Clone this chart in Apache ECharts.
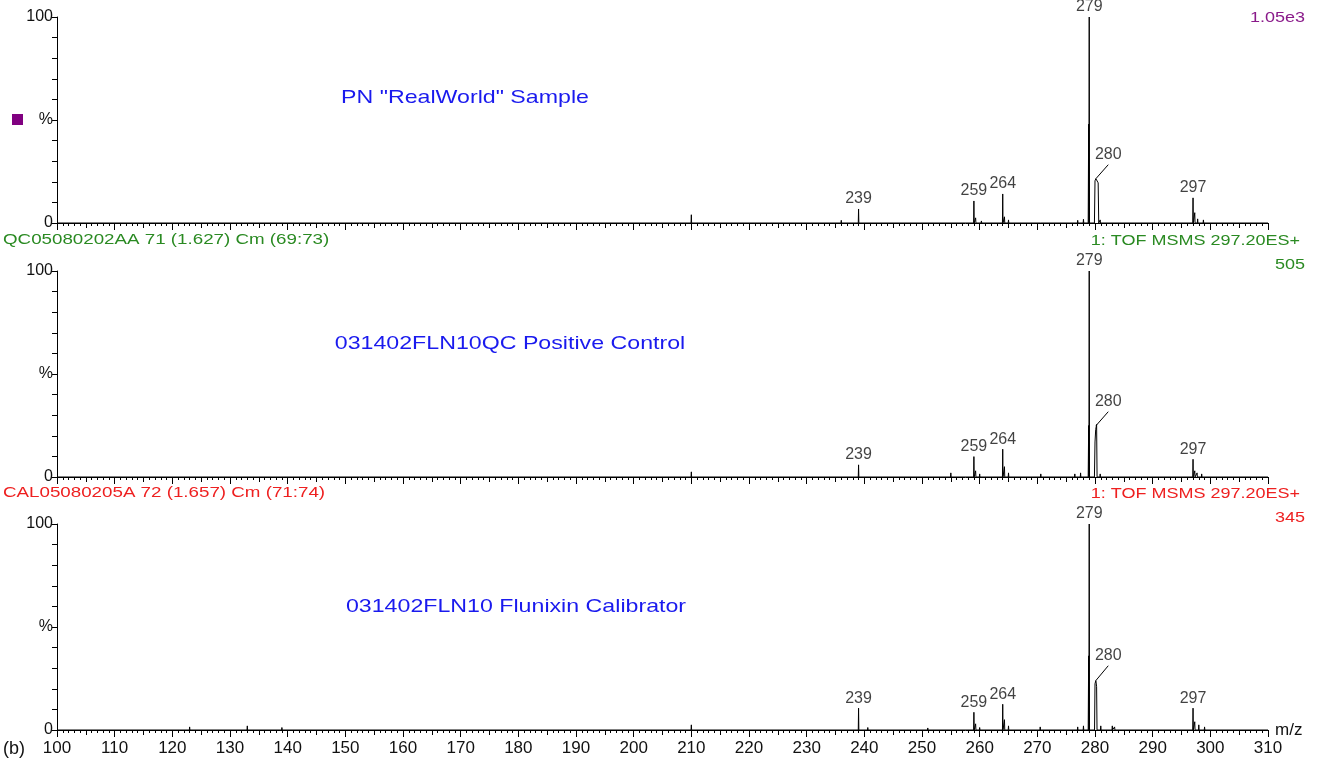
<!DOCTYPE html>
<html><head><meta charset="utf-8">
<script src="https://cdn.jsdelivr.net/npm/echarts@6/dist/echarts.min.js"></script>
<style>html,body{margin:0;padding:0;background:#fff}#c{width:1321px;height:765px}</style>
</head><body><div id="c"></div>
<script>
// ---------------- data ----------------
const xMin = 100, xMax = 310;
const annotations = ['PN "RealWorld" Sample', '031402FLN10QC Positive Control', '031402FLN10 Flunixin Calibrator'];
const headersLeft = ['', 'QC05080202AA 71 (1.627) Cm (69:73)', 'CAL05080205A 72 (1.657) Cm (71:74)'];
const headersRight = ['', '1: TOF MSMS 297.20ES+', '1: TOF MSMS 297.20ES+'];
const intensities = ['1.05e3', '505', '345'];

// labelled peaks [m/z, %]
const peaks1 = [[239, 6.8], [259, 10.7], [264, 14.1], [279, 100], [297, 12.2]];
const peaks2 = [[239, 5.9], [259, 9.9], [264, 13.5], [279, 100], [297, 8.6]];
const peaks3 = [[239, 10.6], [259, 8.6], [264, 12.5], [279, 100], [297, 10.6]];

// shoulder of 279
const shoulder1 = [[278.82, 0], [278.9, 48], [278.94, 0]];
const shoulder2 = [[278.82, 0], [278.9, 25], [278.94, 0]];
const shoulder3 = [[278.82, 0], [278.9, 36], [278.94, 0]];

// isotope peak 280 (profile)
const iso1 = [[279.9, 0], [280.0, 20.5], [280.15, 21.5], [280.55, 19.5], [280.65, 0]];
const iso2 = [[279.9, 0], [280.0, 17], [280.12, 23], [280.28, 25.5], [280.36, 0]];
const iso3 = [[279.92, 0], [280.0, 22.5], [280.15, 24], [280.28, 21], [280.35, 0]];

// label for 280: leader start, leader end
const lead1 = [[280.15, 21.5], [282.3, 28.3]];
const lead2 = [[280.2, 25], [282.3, 31.7]];
const lead3 = [[280.15, 24], [282.3, 31.2]];

// small noise peaks [m/z, %]
const noise1 = [[210, 4], [236, 1.3], [259.3, 2.5], [260.3, 1], [264.3, 3], [265, 1.5], [270.6, 0.8], [277, 1.3], [278, 1.8], [280.9, 1.5], [297.3, 5], [297.8, 2], [298.8, 1.5]];
const noise2 = [[210, 2.5], [255, 2], [259.3, 3], [260, 1.5], [264.3, 5], [265, 2], [270.6, 1.5], [276.5, 1.5], [277.5, 2], [280.9, 1.5], [297.3, 3], [297.7, 2], [298.5, 1.5]];
const noise3 = [[123, 1.5], [133, 2], [139, 1.2], [210, 2.5], [240.6, 1.2], [251, 1], [259.3, 3], [260, 1.2], [264.3, 5], [265, 2], [270.5, 1.5], [277, 1.5], [278, 2], [281, 2], [283, 2], [283.4, 1.5], [297.3, 4], [298, 2.5], [299, 1.5]];

const panels = [
  {peaks: peaks1, shoulder: shoulder1, iso: iso1, lead: lead1, noise: noise1},
  {peaks: peaks2, shoulder: shoulder2, iso: iso2, lead: lead2, noise: noise2},
  {peaks: peaks3, shoulder: shoulder3, iso: iso3, lead: lead3, noise: noise3}
];

// ---------------- layout ----------------
const FONT = '"Liberation Sans", Arial, Helvetica, sans-serif';
const tops = [17, 271, 524];
const gLeft = 57, gWidth = 1211, gHeight = 206;
const headerColors = ['#8a1a8a', '#2a8a22', '#ee2020'];
const annColor = '#1a1aee';

function spikes(list) {
  return list.map(([m, h]) => [[m - 0.05, 0], [m, h], [m + 0.05, 0]]);
}
function trace(p) {
  const segs = [...spikes(p.peaks), ...spikes(p.noise), p.shoulder, p.iso];
  segs.sort((a, b) => a[0][0] - b[0][0]);
  return [[xMin, 0], ...segs.flat(), [xMax, 0]];
}

const grid = [], xAxis = [], yAxis = [], series = [];
panels.forEach((p, i) => {
  grid.push({left: gLeft, width: gWidth, top: tops[i], height: gHeight});
  xAxis.push({
    type: 'value', gridIndex: i, min: xMin, max: xMax, interval: 10,
    axisLine: {show: true, lineStyle: {color: '#000', width: 1}},
    axisTick: {show: true, inside: false, length: 7, lineStyle: {color: '#000', width: 1}},
    minorTick: {show: true, splitNumber: 10, length: 3, lineStyle: {color: '#000', width: 1}},
    splitLine: {show: false}, minorSplitLine: {show: false},
    axisLabel: {show: i === 2, fontSize: 17, color: '#111', fontFamily: FONT, margin: 10},
    name: i === 2 ? 'm/z' : '', nameLocation: 'end', nameGap: 7,
    nameTextStyle: {fontSize: 17, color: '#111', fontFamily: FONT, padding: [8, 0, 0, 0]}
  });
  yAxis.push({
    type: 'value', gridIndex: i, min: 0, max: 100, interval: 10,
    axisLine: {show: true, lineStyle: {color: '#000', width: 1}},
    axisTick: {show: true, inside: false, length: 5, lineStyle: {color: '#000', width: 1}},
    splitLine: {show: false},
    axisLabel: {fontSize: 16, color: '#111', fontFamily: FONT, margin: 4,
      formatter: v => v === 0 ? '0' : v === 100 ? '100' : v === 50 ? '%' : ''}
  });
  series.push({
    type: 'line', xAxisIndex: i, yAxisIndex: i, data: trace(p), showSymbol: false,
    symbol: 'none', lineStyle: {color: '#000', width: 1}, silent: true, z: 3
  });
  series.push({
    type: 'line', xAxisIndex: i, yAxisIndex: i, data: p.lead, showSymbol: false,
    symbol: 'none', lineStyle: {color: '#000', width: 1}, silent: true, z: 3
  });
  const labels = p.peaks.map(([m, h]) => ({name: String(m), value: [m, h]}));
  labels.push({name: '280', value: p.lead[1]});
  series.push({
    type: 'scatter', xAxisIndex: i, yAxisIndex: i, symbolSize: 0, data: labels, silent: true,
    label: {show: true, position: 'top', distance: 2, formatter: '{b}', fontSize: 16,
      color: '#111', fontFamily: FONT}
  });
});
// mid ticks every 5
panels.forEach((p, i) => {
  grid.push({left: gLeft, width: gWidth, top: tops[i], height: gHeight});
  xAxis.push({
    type: 'value', gridIndex: 3 + i, min: xMin, max: xMax, interval: 5,
    axisLine: {show: false}, axisLabel: {show: false}, splitLine: {show: false},
    axisTick: {show: true, inside: false, length: 5, lineStyle: {color: '#000', width: 1}}
  });
  yAxis.push({type: 'value', gridIndex: 3 + i, min: 0, max: 100, show: false});
});

function txt(text, x, y, size, color, align, sx) {
  return {type: 'text', x: x, y: y, scaleX: sx || 1, silent: true, z: 10,
    style: {text: text, fill: color, font: size + 'px ' + FONT,
      align: align, verticalAlign: 'middle', textAlign: align, textVerticalAlign: 'middle'}};
}
const graphic = [];
const annX = [465, 510, 516], annY = [98, 344, 607];
annotations.forEach((a, i) => graphic.push(txt(a, annX[i], annY[i], 19, annColor, 'center', 1.22)));
headersLeft.forEach((h, i) => { if (h) graphic.push(txt(h, 3, tops[i] - 31, 15, headerColors[i], 'left', 1.25)); });
headersRight.forEach((h, i) => { if (h) graphic.push(txt(h, 1300, tops[i] - 30, 15, headerColors[i], 'right', 1.2)); });
intensities.forEach((h, i) => graphic.push(txt(h, 1305, tops[i] + (i === 0 ? 1 : -6), 15, headerColors[i], 'right', 1.2)));
graphic.push({type: 'rect', shape: {x: 12, y: 114, width: 11, height: 11}, style: {fill: '#800080'}, silent: true});
graphic.push(txt('(b)', 3, 749, 18, '#111', 'left', 1));

const chart = echarts.init(document.getElementById('c'), null, {renderer: 'canvas'});
chart.setOption({
  animation: false, backgroundColor: '#fff',
  grid, xAxis, yAxis, series, graphic
});
</script></body></html>
